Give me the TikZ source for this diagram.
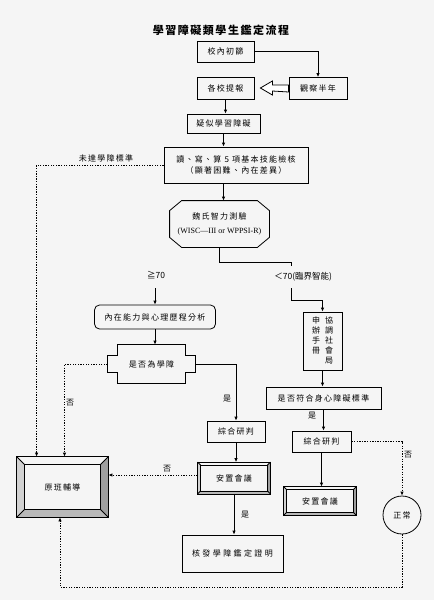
\documentclass[tikz,border=0pt]{standalone}
\usepackage{fontspec}
\setmainfont{Noto Sans CJK TC}
\newfontfamily\cjk[LetterSpace=16]{Noto Sans CJK TC}
\newfontfamily\cjkw[LetterSpace=30]{Noto Sans CJK TC}
\newfontfamily\titlef[LetterSpace=14]{Noto Sans CJK TC}
\newfontfamily\latf{Liberation Serif}
\usetikzlibrary{calc,arrows.meta}

\newcommand\bevelbox[2]{%
  \coordinate (o1) at (#1.north west);
  \coordinate (o2) at (#1.north east);
  \coordinate (o3) at (#1.south east);
  \coordinate (o4) at (#1.south west);
  \coordinate (i1) at ($(#1.north west)+(#2,#2)$);
  \coordinate (i2) at ($(#1.north east)+(-#2,#2)$);
  \coordinate (i3) at ($(#1.south east)+(-#2,-#2)$);
  \coordinate (i4) at ($(#1.south west)+(#2,-#2)$);
  \fill[gray!8]  (o1)--(o2)--(i2)--(i1)--cycle;
  \fill[gray!35] (o1)--(i1)--(i4)--(o4)--cycle;
  \fill[gray!75] (o2)--(o3)--(i3)--(i2)--cycle;
  \fill[gray!55] (o4)--(i4)--(i3)--(o3)--cycle;
  \draw (o1)--(o2)--(o3)--(o4)--cycle;
  \draw (i1)--(i2)--(i3)--(i4)--cycle;
  \draw (o1)--(i1) (o2)--(i2) (o3)--(i3) (o4)--(i4);
}

\tikzset{
  txt/.style={font=\cjk\fontsize{8}{10}\selectfont},
  box/.style={draw, rectangle, inner sep=0pt, align=center, txt},
  ghost/.style={rectangle, inner sep=0pt, align=center, txt},
  arr/.style={-{Latex[length=4pt,width=3.5pt]}},
  dotl/.style={dash pattern=on 1.3pt off 1.3pt},
  lbl/.style={inner sep=0pt, txt},
}

\begin{document}
\begin{tikzpicture}[x=1pt,y=-1pt,line width=0.8pt]
\useasboundingbox (0,0) rectangle (434,600);
\fill[black!4] (0,0) rectangle (434,600);

\node[inner sep=0pt] (title) at (221,30) {\titlef\bfseries\fontsize{11}{13}\selectfont 學習障礙類學生鑑定流程};

\node[box, minimum width=57pt, minimum height=21pt] (n1) at (225.5,51.5) {校內初篩};
\node[box, minimum width=58pt, minimum height=22pt] (n2) at (318,88.5) {觀察半年};
\node[box, minimum width=57pt, minimum height=22pt] (n3) at (225.5,88) {各校提報};
\node[box, minimum width=73pt, minimum height=19pt] (n4) at (223.5,123.5) {疑似學習障礙};
\node[box, minimum width=144pt, minimum height=36pt] (n5) at (236,165) {讀、寫、算 5 項基本技能檢核\\[1pt]（顯著困難、內在差異）};

\node[ghost, minimum width=99pt, minimum height=46pt] (oct) at (219.5,224) {魏氏智力測驗\\[4pt]{\latf\fontsize{8}{10}\selectfont (WISC—III or WPPSI-R)}};
\draw ($(oct.north west)+(12,0)$) -- ($(oct.north east)+(-12,0)$) -- ($(oct.north east)+(0,10)$) -- ($(oct.south east)+(0,-10)$) -- ($(oct.south east)+(-12,0)$) -- ($(oct.south west)+(12,0)$) -- ($(oct.south west)+(0,-10)$) -- ($(oct.north west)+(0,10)$) -- cycle;

\node[inner sep=0pt, font=\fontsize{8.5}{10}\selectfont] (ge) at (156,275) {≧70};
\coordinate (ge1) at (155,288);
\node[inner sep=0pt, anchor=west, font=\fontsize{8.5}{10}\selectfont] (lt) at (274,277) {＜70(臨界智能)};
\coordinate (c70a) at (291,266);
\coordinate (c70b) at (291,288);

\node[box, rounded corners=5pt, minimum width=121pt, minimum height=24pt] (r1) at (155,317) {內在能力與心理歷程分析};

\node[ghost, minimum width=87pt, minimum height=38pt] (q1) at (151.5,364) {是否為學障};
\draw ($(q1.north west)+(10,0)$) -- ($(q1.north east)+(-10,0)$) -- ($(q1.north east)+(-10,11)$) -- ($(q1.north east)+(0,11)$) -- ($(q1.south east)+(0,-11)$) -- ($(q1.south east)+(-10,-11)$) -- ($(q1.south east)+(-10,0)$) -- ($(q1.south west)+(10,0)$) -- ($(q1.south west)+(10,-11)$) -- ($(q1.south west)+(0,-11)$) -- ($(q1.north west)+(0,11)$) -- ($(q1.north west)+(10,11)$) -- cycle;

\node[box, minimum width=39pt, minimum height=58pt] (sb) at (322.5,341) {\begin{tabular}{@{}c@{\hspace{5pt}}c@{}}申&協\\辦&調\\手&社\\冊&會\\&局\end{tabular}};
\node[box, minimum width=115pt, minimum height=22pt] (q2) at (323.5,398) {是否符合身心障礙標準};
\node[box, minimum width=59pt, minimum height=21pt] (j2) at (321.5,441.5) {綜合研判};
\node[ghost, minimum width=72pt, minimum height=28pt] (a2) at (320,501) {安置會議};
\bevelbox{a2}{3}
\node[draw, circle, minimum size=38pt, inner sep=0pt, txt] (nc) at (402,515) {正常};

\node[box, minimum width=58pt, minimum height=21pt] (j1) at (236,431.5) {綜合研判};
\node[ghost, minimum width=72pt, minimum height=31pt] (a1) at (234,478) {安置會議};
\bevelbox{a1}{3}
\node[box, minimum width=101pt, minimum height=37pt, font=\cjkw\fontsize{8}{10}\selectfont] (cert) at (232.5,553.5) {核發學障鑑定證明};

\node[ghost, minimum width=91pt, minimum height=60pt] (yb) at (62.5,487) {原班輔導};
\bevelbox{yb}{8}
\coordinate (bl) at (60,587);

% connectors
\draw[arr] (n1.east) -| (n2.north);
\draw[fill=white] ($(n3.east)+(6,0)$) -- ++(12,-7) -- ++(0,4) -- ($(n2.west)+(0,-3.5)$) -- ($(n2.west)+(0,3.5)$) -- ($(n3.east)+(18,3)$) -- ++(0,4) -- cycle;
\draw[arr] (n3.south) -- (n3.south |- n4.north);
\draw[arr] (n4.south) -- (n4.south |- n5.north);
\draw[arr] (n4.south |- n5.south) -- (n4.south |- oct.north);

\draw[dotl, arr] (n5.west) -| ($(yb.north west)+(20,0)$);
\node[lbl] (l1) at (106,158) {未達學障標準};

\draw (oct.south) -- ++(0,15) -| (c70a);
\draw[arr] (ge1) -- (r1.north);
\draw[arr] (c70b) -- ++(0,12) -| (sb.north);

\draw[arr] (r1.south) -- (r1.south |- q1.north);
\draw[dotl, arr] (q1.west) -| ($(yb.north)+(2,0)$);
\node[lbl] (l2) at (70,403) {否};
\draw[arr] (q1.east) -| (j1.north);
\node[lbl] (l3) at (227,399) {是};
\draw[arr] (j1.south) -- (j1.south |- a1.north);
\draw[dotl, arr] ($(a1.west)+(0,-3)$) -- ($(a1.west -| yb.east)+(0,-3)$);
\node[lbl] (l4) at (167,469) {否};
\draw[arr] (a1.south) -- (a1.south |- cert.north);
\node[lbl] (l5) at (245,515) {是};

\draw[arr] (sb.south) -- (sb.south |- q2.north);
\draw[arr] (q2.south) -- (q2.south |- j2.north);
\node[lbl] (l6) at (312,416) {是};
\draw[arr] (j2.south) -- (j2.south |- a2.north);
\draw[dotl, arr] (j2.east) -| (nc.north);
\node[lbl] (l7) at (408,455) {否};
\draw[dotl, arr] (nc.south) |- (bl) -- (bl |- yb.south);
\end{tikzpicture}
\end{document}
